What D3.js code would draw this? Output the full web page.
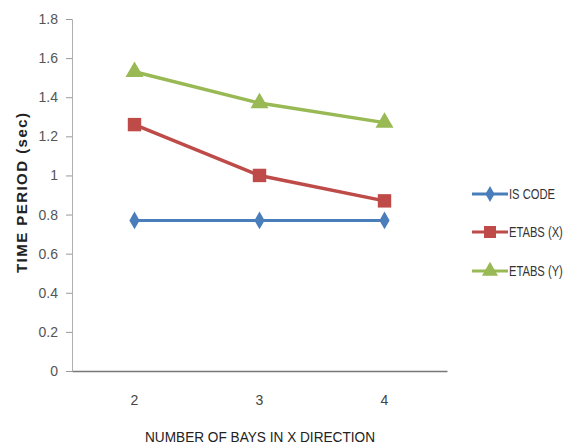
<!DOCTYPE html>
<html>
<head>
<meta charset="utf-8">
<script src="https://cdn.jsdelivr.net/npm/d3@7"></script>
<style>
  body { margin: 0; background: #fff; }
  svg { display: block; }
</style>
</head>
<body>
<svg id="chart" width="585" height="446"></svg>
<script>
// Number of bays in X direction
const bays = ["2", "3", "4"];
// Time period (sec) per method
const isCode = [0.77, 0.77, 0.77];
const etabsX = [1.26, 1.00, 0.87];
const etabsY = [1.53, 1.37, 1.27];
const yTicks = [0, 0.2, 0.4, 0.6, 0.8, 1, 1.2, 1.4, 1.6, 1.8];
const seriesNames = ["IS CODE", "ETABS (X)", "ETABS (Y)"];

const series = [
  { name: seriesNames[0], values: isCode, color: "#4a7ebb", marker: "diamond" },
  { name: seriesNames[1], values: etabsX, color: "#be4b48", marker: "square" },
  { name: seriesNames[2], values: etabsY, color: "#98b954", marker: "triangle" }
];

const svg = d3.select("#chart");
const plot = { left: 72, right: 447, top: 19, bottom: 371 };

const x = d3.scaleBand().domain(bays).range([plot.left, plot.right]);
const y = d3.scaleLinear().domain([0, 1.8]).range([plot.bottom, plot.top]);

const tickFont = "'Liberation Sans Narrow', 'Liberation Sans', sans-serif";

// Y axis
const yAxis = svg.append("g")
  .attr("transform", `translate(${plot.left},0)`)
  .call(d3.axisLeft(y).tickValues(yTicks).tickSize(6).tickPadding(8)
    .tickFormat(d => d3.format("")(+d.toFixed(1))));
yAxis.select(".domain").attr("stroke", "#b0b0b0").attr("stroke-width", 1);
yAxis.selectAll(".tick line").attr("stroke", "#9a9a9a");
yAxis.selectAll(".tick text").attr("fill", "#555").attr("font-size", 14).attr("font-family", tickFont);

// X axis
const xAxis = svg.append("g")
  .attr("transform", `translate(0,${plot.bottom})`)
  .call(d3.axisBottom(x).tickSize(0).tickPadding(24));
xAxis.select(".domain").attr("stroke", "#777").attr("stroke-width", 1.3);
xAxis.selectAll(".tick text").attr("fill", "#444").attr("font-size", 14).attr("font-family", tickFont);

// Axis titles
svg.append("text")
  .attr("transform", `translate(27,193) rotate(-90)`)
  .attr("text-anchor", "middle")
  .attr("font-family", "'Liberation Sans', Arial, sans-serif")
  .attr("font-weight", "bold")
  .attr("font-size", 15)
  .attr("textLength", 160)
  .attr("lengthAdjust", "spacing")
  .attr("fill", "#222")
  .text("TIME PERIOD  (sec)");

svg.append("text")
  .attr("x", 260).attr("y", 442)
  .attr("text-anchor", "middle")
  .attr("font-family", tickFont)
  .attr("font-size", 14)
  .attr("textLength", 230)
  .attr("lengthAdjust", "spacingAndGlyphs")
  .attr("fill", "#222")
  .text("NUMBER  OF BAYS IN X DIRECTION");

const symbolFor = m => m === "diamond" ? d3.symbolDiamond : m === "square" ? d3.symbolSquare : d3.symbolTriangle;
const sizeFor = m => m === "diamond" ? 90 : m === "square" ? 180 : 140;

const line = d3.line()
  .x((d, i) => x(bays[i]) + x.bandwidth() / 2)
  .y(d => y(d));

series.forEach(s => {
  const g = svg.append("g");
  g.append("path")
    .datum(s.values)
    .attr("fill", "none")
    .attr("stroke", s.color)
    .attr("stroke-width", s.marker === "diamond" ? 3 : 3.5)
    .attr("d", line);
  g.selectAll("path.mk")
    .data(s.values)
    .join("path")
    .attr("class", "mk")
    .attr("transform", (d, i) => `translate(${x(bays[i]) + x.bandwidth() / 2},${y(d)})`)
    .attr("d", d3.symbol().type(symbolFor(s.marker)).size(sizeFor(s.marker)))
    .attr("fill", s.color);
});

// Legend
const legend = svg.append("g");
const legendY = [194, 232, 271];
series.forEach((s, i) => {
  const g = legend.append("g").attr("transform", `translate(472,${legendY[i]})`);
  g.append("line").attr("x1", 0).attr("x2", 36).attr("y1", 0).attr("y2", 0)
    .attr("stroke", s.color).attr("stroke-width", 3);
  g.append("path").attr("transform", "translate(18,0)")
    .attr("d", d3.symbol().type(symbolFor(s.marker)).size(sizeFor(s.marker) * 0.8))
    .attr("fill", s.color);
  g.append("text")
    .attr("transform", "translate(37,5) scale(0.8,1)")
    .attr("font-family", tickFont)
    .attr("font-size", 14)
    .attr("fill", "#333")
    .text(s.name);
});
</script>
</body>
</html>
